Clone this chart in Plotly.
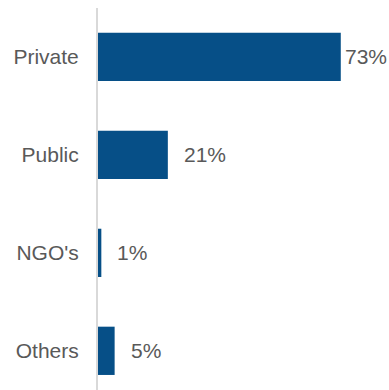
import plotly.graph_objects as go

# Share of respondents by sector
categories = ["Private", "Public", "NGO's", "Others"]
values = [73, 21, 1, 5]
labels = ["73%", "21%", "1%", "5%"]

BAR_COLOR = "#064F87"
TEXT_COLOR = "#595959"
FONT = "Liberation Sans, Arial, sans-serif"

fig = go.Figure(
    go.Bar(
        x=values,
        y=categories,
        orientation="h",
        marker=dict(color=BAR_COLOR, line=dict(width=0)),
        hoverinfo="skip",
    )
)

# Value labels to the right of each bar; the longest bar keeps its label tight
top = max(values)
for cat, v, lab in zip(categories, values, labels):
    fig.add_annotation(
        x=v, y=cat, text=lab, showarrow=False,
        xanchor="left", yanchor="middle",
        xshift=2 if v == top else 14,
        font=dict(family=FONT, size=21, color=TEXT_COLOR),
    )

fig.update_layout(
    width=389, height=390,
    margin=dict(l=98, r=0, t=8, b=0),
    paper_bgcolor="white", plot_bgcolor="white",
    bargap=0.507,
    showlegend=False,
    font=dict(family=FONT, size=21, color=TEXT_COLOR),
    xaxis=dict(range=[0, 87.5], visible=False, showgrid=False, zeroline=False),
    yaxis=dict(
        type="category",
        range=[3.4, -0.5],
        showline=True, linecolor="#D9D9D9", linewidth=2,
        showgrid=False, zeroline=False, ticks="",
        ticklabelstandoff=13,
        tickfont=dict(family=FONT, size=21, color=TEXT_COLOR),
    ),
)

fig.write_html("out.html")
